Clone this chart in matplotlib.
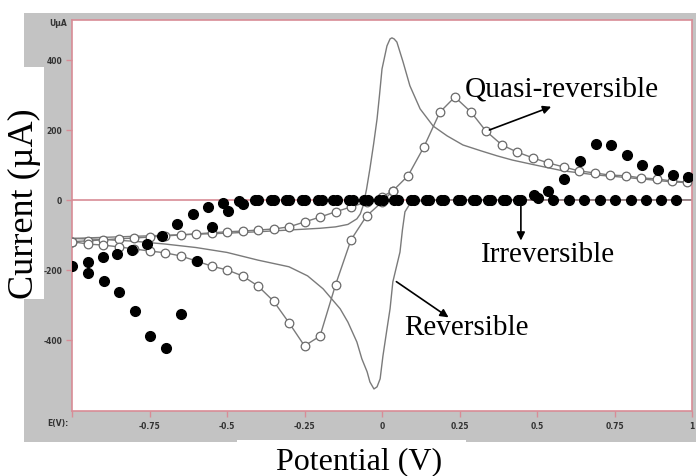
import matplotlib
matplotlib.use("Agg")
import matplotlib.pyplot as plt
from matplotlib.patches import Rectangle

# ---- data: potential (V) and current (uA) ----
# Reversible couple, anodic sweep (-1 -> +1)
rev_fwd_v = [-1.0, -0.9, -0.8, -0.7, -0.6, -0.5, -0.4, -0.3, -0.2, -0.15, -0.11,
             -0.081, -0.07, -0.061, -0.05, -0.039, -0.027, -0.016, -0.008, 0.0,
             0.016, 0.026, 0.032, 0.039, 0.048, 0.068, 0.09, 0.123, 0.165, 0.21,
             0.261, 0.32, 0.371, 0.42, 0.477, 0.53, 0.584, 0.64, 0.694, 0.75, 0.8,
             0.85, 0.906, 0.95, 1.0]
rev_fwd_i = [-110, -107, -104, -101, -98, -95, -91, -86, -81, -77, -70,
             -54, -40, -17, 30, 89, 160, 231, 300, 374,
             440, 460, 463, 460, 451, 394, 326, 260, 211, 183,
             157, 140, 126, 114, 103, 93, 83, 77, 71, 67, 63,
             59, 54, 51, 49]
# Reversible couple, cathodic sweep (+1 -> -1)
rev_rev_v = [1.0, 0.5, 0.2, 0.15, 0.12, 0.106, 0.09, 0.074, 0.066, 0.058, 0.045,
             0.035, 0.026, 0.016, 0.003, -0.006, -0.016, -0.026, -0.039, -0.048,
             -0.065, -0.081, -0.11, -0.135, -0.19, -0.24, -0.3, -0.4, -0.5, -0.6,
             -0.7, -0.8, -0.9, -1.0]
rev_rev_i = [0, 0, 0, -1, -3, -6, -11, -34, -85, -149, -197,
             -234, -311, -369, -446, -511, -534, -540, -520, -491,
             -454, -406, -349, -311, -254, -217, -191, -172, -150, -136,
             -126, -118, -113, -110]

# Quasi-reversible couple (open circles)
quasi_upper_v = [-1.0, -0.95, -0.90, -0.85, -0.80, -0.75, -0.70, -0.65, -0.60, -0.55,
                 -0.50, -0.45, -0.40, -0.35, -0.30, -0.25, -0.20, -0.15, -0.10, -0.05,
                 0.00, 0.035]
quasi_upper_i = [-119, -117, -114, -111, -109, -106, -103, -100, -97, -94,
                 -91, -89, -86, -83, -77, -63, -49, -34, -20, -6,
                 9, 26]
quasi_lower_v = [-1.0, -0.95, -0.90, -0.85, -0.80, -0.75, -0.70, -0.65, -0.60, -0.55,
                 -0.50, -0.45, -0.40, -0.35, -0.30, -0.25, -0.20, -0.15, -0.10, -0.05,
                 0.00, 0.035, 0.084, 0.135, 0.187, 0.235, 0.287, 0.335, 0.387, 0.435,
                 0.487, 0.535, 0.587, 0.635, 0.687, 0.735, 0.787, 0.835, 0.887, 0.935,
                 0.985]
quasi_lower_i = [-119, -126, -129, -134, -140, -146, -151, -160, -174, -189,
                 -200, -217, -246, -289, -351, -417, -389, -243, -114, -46,
                 -6, 26, 69, 151, 251, 294, 251, 197, 157, 137,
                 120, 106, 94, 83, 77, 71, 69, 63, 60, 54,
                 51]

# Irreversible couple (filled dots)
irr_fwd_v = [-1.0, -0.95, -0.9, -0.855, -0.806, -0.758, -0.71, -0.661, -0.61, -0.561,
             -0.513, -0.461, -0.41, -0.358, -0.31, -0.258, -0.206, -0.158, -0.106, -0.058,
             -0.01, 0.039, 0.094, 0.142, 0.19, 0.245, 0.294, 0.342, 0.39, 0.439,
             0.49, 0.535, 0.587, 0.639, 0.69, 0.739, 0.79, 0.839, 0.89, 0.939,
             0.987]
irr_fwd_i = [-188, -177, -163, -154, -143, -126, -103, -69, -40, -20,
             -9, -3, 0, 0, 0, 0, 0, 0, 0, 0,
             0, 0, 0, 0, 0, 0, 0, 0, 0, 0,
             14, 26, 60, 111, 160, 157, 129, 100, 86, 71,
             66]
irr_rev_v = [0.948, 0.9, 0.852, 0.803, 0.752, 0.703, 0.652, 0.603, 0.552, 0.503,
             0.448, 0.4, 0.352, 0.303, 0.255, 0.2, 0.152, 0.103, 0.052, 0.003,
             -0.045, -0.094, -0.145, -0.194, -0.248, -0.3, -0.348, -0.4, -0.448, -0.497,
             -0.548, -0.597, -0.648, -0.697, -0.748, -0.797, -0.848, -0.897, -0.95]
irr_rev_i = [0, 0, 0, 0, 0, 0, 0, 0, 0, 6,
             0, 0, 0, 0, 0, 0, 0, 0, 0, 0,
             0, 0, 0, 0, 0, 0, 0, 0, -11, -31,
             -77, -174, -326, -423, -389, -317, -263, -231, -209]

x_ticks = [-1, -0.75, -0.5, -0.25, 0, 0.25, 0.5, 0.75, 1]
x_tick_labels = ["", "-0.75", "-0.5", "-0.25", "0", "0.25", "0.5", "0.75", "1"]
y_ticks = [-400, -200, 0, 200, 400]
y_tick_labels = ["-400", "-200", "0", "200", "400"]

W, H = 696, 477
fig = plt.figure(figsize=(W / 100, H / 100), dpi=100)
fig.patch.set_facecolor("white")

frame_gray = "#c3c3c3"
axis_pink = "#d88c96"
curve_gray = "#7a7a7a"


def px_rect(x0, y0, x1, y1, color):
    fig.patches.append(Rectangle((x0 / W, 1 - y1 / H), (x1 - x0) / W, (y1 - y0) / H,
                                 transform=fig.transFigure, facecolor=color,
                                 edgecolor="none", zorder=-5))


# instrument-window background and white label strips
px_rect(24, 14, 696, 443, frame_gray)
px_rect(0, 68, 44, 300, "white")
px_rect(237, 441, 466, 477, "white")

ax = fig.add_axes([72 / W, 1 - 412 / H, 620 / W, 391 / H])
ax.set_zorder(1)
ax.set_facecolor("white")
ax.set_xlim(-1, 1)
ax.set_ylim(-603, 514)
for s in ax.spines.values():
    s.set_color(axis_pink)
    s.set_linewidth(1.2)

ax.axhline(0, color=axis_pink, lw=1.2, zorder=1)

# reversible
ax.plot(rev_fwd_v, rev_fwd_i, color=curve_gray, lw=1.0, zorder=2)
ax.plot(rev_rev_v, rev_rev_i, color=curve_gray, lw=1.0, zorder=2)

# quasi-reversible
circ = dict(color=curve_gray, lw=1.0, marker="o", markersize=6.2,
            markerfacecolor="white", markeredgecolor="#6a6a6a",
            markeredgewidth=0.9, zorder=3)
ax.plot(quasi_upper_v, quasi_upper_i, **circ)
ax.plot(quasi_lower_v, quasi_lower_i, **circ)

# irreversible
dots = dict(ls="none", marker="o", markersize=7.0, color="black", zorder=4)
ax.plot(irr_fwd_v, irr_fwd_i, **dots)
ax.plot(irr_rev_v, irr_rev_i, **dots)

ax.set_xticks(x_ticks)
ax.set_xticklabels(x_tick_labels)
ax.set_yticks(y_ticks)
ax.set_yticklabels(y_tick_labels)
ax.tick_params(axis="both", direction="out", length=4, width=1, color=axis_pink,
               labelsize=5.5, labelcolor="#333333", pad=3)
for lab in ax.get_xticklabels() + ax.get_yticklabels():
    lab.set_fontweight("bold")

fig.text(58 / W, 1 - 424 / H, "E(V):", fontsize=5.5, fontweight="bold",
         color="#333333", ha="center", va="center")
fig.text(58 / W, 1 - 24 / H, "UµA", fontsize=5.5, fontweight="bold",
         color="#333333", ha="center", va="center")

serif = "Liberation Serif"
fig.text(359 / W, 1 - 462 / H, "Potential (V)", family=serif, fontsize=23,
         ha="center", va="center")
fig.text(24 / W, 1 - 204 / H, "Current (µA)", family=serif, fontsize=26,
         rotation=90, ha="center", va="center")

# curve annotations
arrow = dict(arrowstyle="-|>", color="black", lw=1.2, mutation_scale=12)
ax.annotate("", xy=(0.554, 269), xytext=(0.338, 197), arrowprops=arrow, zorder=5)
ax.text(0.58, 317, "Quasi-reversible", family=serif, fontsize=21.2,
        ha="center", va="center", zorder=5)
ax.annotate("", xy=(0.448, -124), xytext=(0.448, 0), arrowprops=arrow, zorder=5)
ax.text(0.537, -154, "Irreversible", family=serif, fontsize=21,
        ha="center", va="center", zorder=5)
ax.annotate("", xy=(0.222, -340), xytext=(0.039, -229), arrowprops=arrow, zorder=5)
ax.text(0.271, -363, "Reversible", family=serif, fontsize=21,
        ha="center", va="center", zorder=5)

fig.savefig("out.png", dpi=100)
